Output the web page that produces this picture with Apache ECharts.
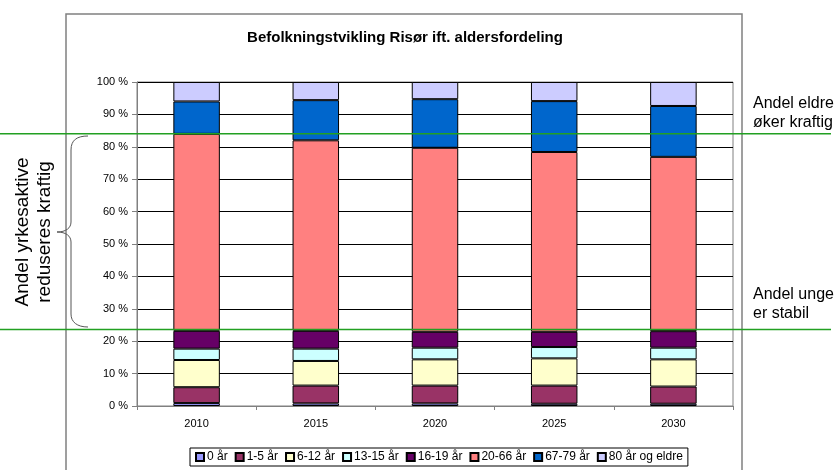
<!DOCTYPE html>
<html><head><meta charset="utf-8">
<script src="https://cdn.jsdelivr.net/npm/echarts@6/dist/echarts.min.js"></script>
<style>html,body{margin:0;padding:0;background:#fff}#c{width:839px;height:470px}</style>
</head><body><div id="c"></div>
<script>
const years = ['2010','2015','2020','2025','2030'];
const seriesNames = ['0 år','1-5 år','6-12 år','13-15 år','16-19 år','20-66 år','67-79 år','80 år og eldre'];
const age0    = [0.9, 0.8, 0.8, 0.7, 0.7];
const age1_5  = [4.9, 5.5, 5.5, 5.6, 5.3];
const age6_12 = [8.4, 7.6, 8.1, 8.4, 8.4];
const age13_15= [3.5, 3.8, 3.6, 3.5, 3.6];
const age16_19= [5.5, 5.5, 4.9, 4.7, 5.1];
const age20_66= [60.8, 58.8, 56.8, 55.5, 53.8];
const age67_79= [10.0, 12.4, 15.0, 15.7, 15.7];
const age80   = [6.0, 5.6, 5.3, 5.9, 7.4];
const yTicks = [0,10,20,30,40,50,60,70,80,90,100];
const colors = ['#9999FF','#993366','#FFFFCC','#CCFFFF','#660066','#FF8080','#0066CC','#CCCCFF'];
const values = [age0, age1_5, age6_12, age13_15, age16_19, age20_66, age67_79, age80];
const bandTop = 84.0, bandBottom = 23.6; // green annotation lines (in %)

const font = 'Arial, "Liberation Sans", sans-serif';
const chart = echarts.init(document.getElementById('c'), null, {renderer:'canvas'});
const option = {
  animation:false,
  textStyle:{fontFamily:font},
  grid:{left:137, top:82, right:106, bottom:64, show:true, borderColor:'#808080', borderWidth:1, backgroundColor:'transparent'},
  xAxis:{type:'category', data:years, boundaryGap:true,
    axisLine:{lineStyle:{color:'#808080', width:1}},
    axisTick:{show:true, length:4, lineStyle:{color:'#808080'}},
    axisLabel:{color:'#000', fontSize:11, margin:12, fontFamily:font}},
  yAxis:{type:'value', min:yTicks[0], max:yTicks[yTicks.length-1], interval:10,
    axisLine:{show:true, lineStyle:{color:'#808080', width:1}},
    axisTick:{show:true, length:5, lineStyle:{color:'#808080'}},
    axisLabel:{color:'#000', fontSize:11, margin:9, formatter:'{value} %', fontFamily:font},
    splitLine:{show:true, lineStyle:{color:'#000', width:1}}},
  legend:{left:190, top:448, padding:[3,5,3,5], itemGap:7, itemWidth:8, itemHeight:8,
    borderColor:'#000', borderWidth:1, icon:'rect',
    textStyle:{fontSize:12, color:'#000', fontFamily:font, padding:[0,0,0,-2]},
    data:seriesNames},
  series: seriesNames.map((n,i)=>({
    name:n, type:'bar', stack:'total', data:values[i], barWidth:'39%',
    itemStyle:{color:colors[i], borderColor:'#000', borderWidth:1}
  }))
};
chart.setOption(option);

const yTop = chart.convertToPixel({yAxisIndex:0}, bandTop);
const yBot = chart.convertToPixel({yAxisIndex:0}, bandBottom);
const braceStyle = {fill:'none', stroke:'#555', lineWidth:1};
chart.setOption({graphic:[
  {type:'rect', shape:{x:66, y:14, width:676, height:470}, style:{fill:'none', stroke:'#808080', lineWidth:1.5}, z:-1},
  {type:'text', x:405, y:30, style:{text:'Befolkningstvikling Risør ift. aldersfordeling', font:'bold 15px '+font, fill:'#000', textAlign:'center'}},
  {type:'line', shape:{x1:0, y1:yTop, x2:831, y2:yTop}, style:{stroke:'#22A022', lineWidth:1.5}, z:100},
  {type:'line', shape:{x1:0, y1:yBot, x2:831, y2:yBot}, style:{stroke:'#22A022', lineWidth:1.5}, z:100},
  {type:'bezierCurve', shape:{x1:88,y1:136, cpx1:77,cpy1:136, cpx2:71,cpy2:140, x2:71,y2:150}, style:braceStyle},
  {type:'line', shape:{x1:71,y1:150,x2:71,y2:222}, style:braceStyle},
  {type:'bezierCurve', shape:{x1:71,y1:222, cpx1:71,cpy1:228, cpx2:66,cpy2:232, x2:57,y2:232}, style:braceStyle},
  {type:'bezierCurve', shape:{x1:57,y1:232, cpx1:66,cpy1:232, cpx2:71,cpy2:236, x2:71,y2:242}, style:braceStyle},
  {type:'line', shape:{x1:71,y1:242,x2:71,y2:314}, style:braceStyle},
  {type:'bezierCurve', shape:{x1:71,y1:314, cpx1:71,cpy1:322, cpx2:77,cpy2:327, x2:88,y2:327}, style:braceStyle},
  {type:'text', x:34, y:232, rotation:Math.PI/2, style:{text:'Andel yrkesaktive\nreduseres kraftig', font:'19px '+font, lineHeight:22, fill:'#000', textAlign:'center', textVerticalAlign:'middle'}},
  {type:'text', x:753, y:94, style:{text:'Andel eldre\nøker kraftig', font:'16px '+font, lineHeight:19, fill:'#000'}},
  {type:'text', x:753, y:285, style:{text:'Andel unge\ner stabil', font:'16px '+font, lineHeight:19, fill:'#000'}}
]});
</script></body></html>
